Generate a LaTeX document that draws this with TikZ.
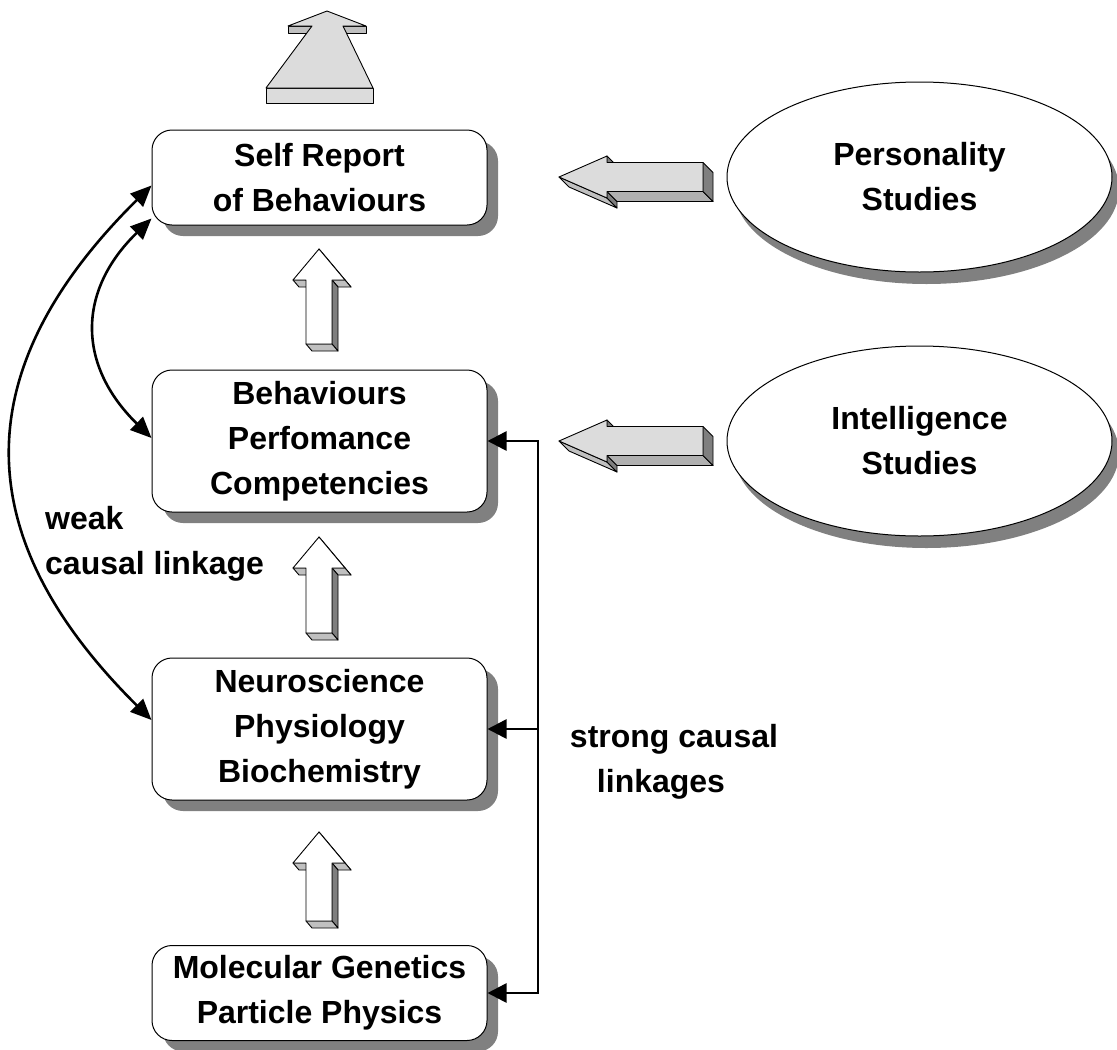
\documentclass[tikz,border=0pt]{standalone}
\usepackage{fontspec}
\setmainfont{Liberation Sans}
\usetikzlibrary{arrows.meta,shadows,shapes.geometric}
\definecolor{shadowgray}{HTML}{808080}
\definecolor{lightface}{HTML}{DCDCDC}
\definecolor{midface}{HTML}{C0C0C0}
\definecolor{sideface}{HTML}{B0B0B0}
\definecolor{darkface}{HTML}{7F7F7F}
\newcommand{\labelfont}{\fontsize{32}{45}\selectfont\bfseries}
\begin{document}
\begin{tikzpicture}[x=1pt,y=-1pt,
  box/.style={draw=black, line width=1pt, fill=white, rounded corners=20pt,
    minimum width=335pt, inner sep=0pt, align=center, font=\labelfont,
    drop shadow={shadow xshift=11pt, shadow yshift=-11pt, fill=shadowgray, opacity=1}},
  oval/.style={ellipse, draw=black, line width=1pt, fill=white, minimum width=385pt,
    minimum height=190pt, inner sep=0pt, align=center, font=\labelfont,
    drop shadow={shadow xshift=7pt, shadow yshift=-12pt, fill=shadowgray, opacity=1}},
  lbl/.style={font=\labelfont, inner sep=0pt},
  face/.style={draw=black, line width=0.9pt, line join=round},
  link/.style={line width=2.6pt, {Triangle[length=21pt,width=18pt]}-{Triangle[length=21pt,width=18pt]}},
  sarrow/.style={line width=2.6pt, -{Triangle[length=19pt,width=19pt]}},
  conn/.style={line width=2.6pt}
]
\useasboundingbox[fill=white] (0,0) rectangle (1117,1050);

% big grey arrow at the top
\filldraw[face, fill=lightface] (266,88) rectangle (373,103);
\filldraw[face, fill=midface] (288,26) rectangle (312,33);
\filldraw[face, fill=midface] (343,26) rectangle (366,33);
\filldraw[face, fill=lightface] (266,88) -- (312,26) -- (288,26) -- (327,11)
  -- (366,26) -- (343,26) -- (373,88) -- cycle;

% boxes
\node[box, minimum height=95pt]  (b1) at (319.5,177.5) {Self Report\\of Behaviours};
\node[box, minimum height=142pt] (b2) at (319.5,441) {Behaviours\\Perfomance\\Competencies};
\node[box, minimum height=142pt] (b3) at (319.5,729) {Neuroscience\\Physiology\\Biochemistry};
\node[box, minimum height=95pt]  (b4) at (319.5,993) {Molecular Genetics\\Particle Physics};

% ellipses
\node[oval] (e1) at (919.5,177) {Personality\\Studies};
\node[oval] (e2) at (919.5,441) {Intelligence\\Studies};

% white 3D up arrows between the boxes
\foreach \t/\b in {249/344, 537/633, 832/921} {
  \filldraw[face, fill=darkface] (319,\t) -- (345,\t+31) -- (351,\t+38) -- (325,\t+7) -- cycle;
  \filldraw[face, fill=midface] (332,\t+31) -- (345,\t+31) -- (351,\t+38) -- (338,\t+38) -- cycle;
  \filldraw[face, fill=darkface] (332,\t+31) -- (332,\b) -- (338,\b+7) -- (338,\t+38) -- cycle;
  \filldraw[face, fill=midface] (306,\b) -- (332,\b) -- (338,\b+7) -- (312,\b+7) -- cycle;
  \filldraw[face, fill=midface] (293,\t+31) -- (306,\t+31) -- (312,\t+38) -- (299,\t+38) -- cycle;
  \filldraw[face, fill=white] (319,\t) -- (345,\t+31) -- (332,\t+31) -- (332,\b)
    -- (306,\b) -- (306,\t+31) -- (293,\t+31) -- cycle;
}

% grey 3D left arrows from the ellipses
\foreach \c in {177,441} {
  \filldraw[face, fill=midface] (559,\c) -- (607,\c+21) -- (617,\c+31) -- (569,\c+10) -- cycle;
  \filldraw[face, fill=darkface] (607,\c+21) -- (607,\c+14.5) -- (617,\c+24.5) -- (617,\c+31) -- cycle;
  \filldraw[face, fill=sideface] (607,\c+14.5) -- (703,\c+14.5) -- (713,\c+24.5) -- (617,\c+24.5) -- cycle;
  \filldraw[face, fill=darkface] (703,\c-14.5) -- (703,\c+14.5) -- (713,\c+24.5) -- (713,\c-4.5) -- cycle;
  \filldraw[face, fill=darkface] (607,\c-21) -- (607,\c-14.5) -- (617,\c-4.5) -- (617,\c-11) -- cycle;
  \filldraw[face, fill=lightface] (559,\c) -- (607,\c-21) -- (607,\c-14.5) -- (703,\c-14.5)
    -- (703,\c+14.5) -- (607,\c+14.5) -- (607,\c+21) -- cycle;
}

% weak causal linkages (curved, double headed)
\draw[link] ([yshift=-8pt]b1.west) .. controls (-34,369) and (-34,536) .. ([yshift=9pt]b3.west);
\draw[link] ([yshift=-41pt]b1.west) .. controls (77,291) and (77,365) .. ([yshift=3pt]b2.west);

% strong causal linkages
\coordinate (vx) at (538,0);
\draw[conn, line cap=rect] (vx |- b2.east) -- (vx |- b4.east);
\draw[sarrow] (vx |- b2.east) -- (b2.east);
\draw[sarrow] (vx |- b3.east) -- (b3.east);
\draw[sarrow] (vx |- b4.east) -- (b4.east);

% labels (base anchor = baseline of the last line)
\node[lbl, anchor=base west, align=left] (weak) at (45,574) {weak\\causal linkage};
\node[lbl, anchor=base, align=center] (strong) at (674,792) {strong causal\\\hspace*{-26pt}linkages};
\end{tikzpicture}
\end{document}
